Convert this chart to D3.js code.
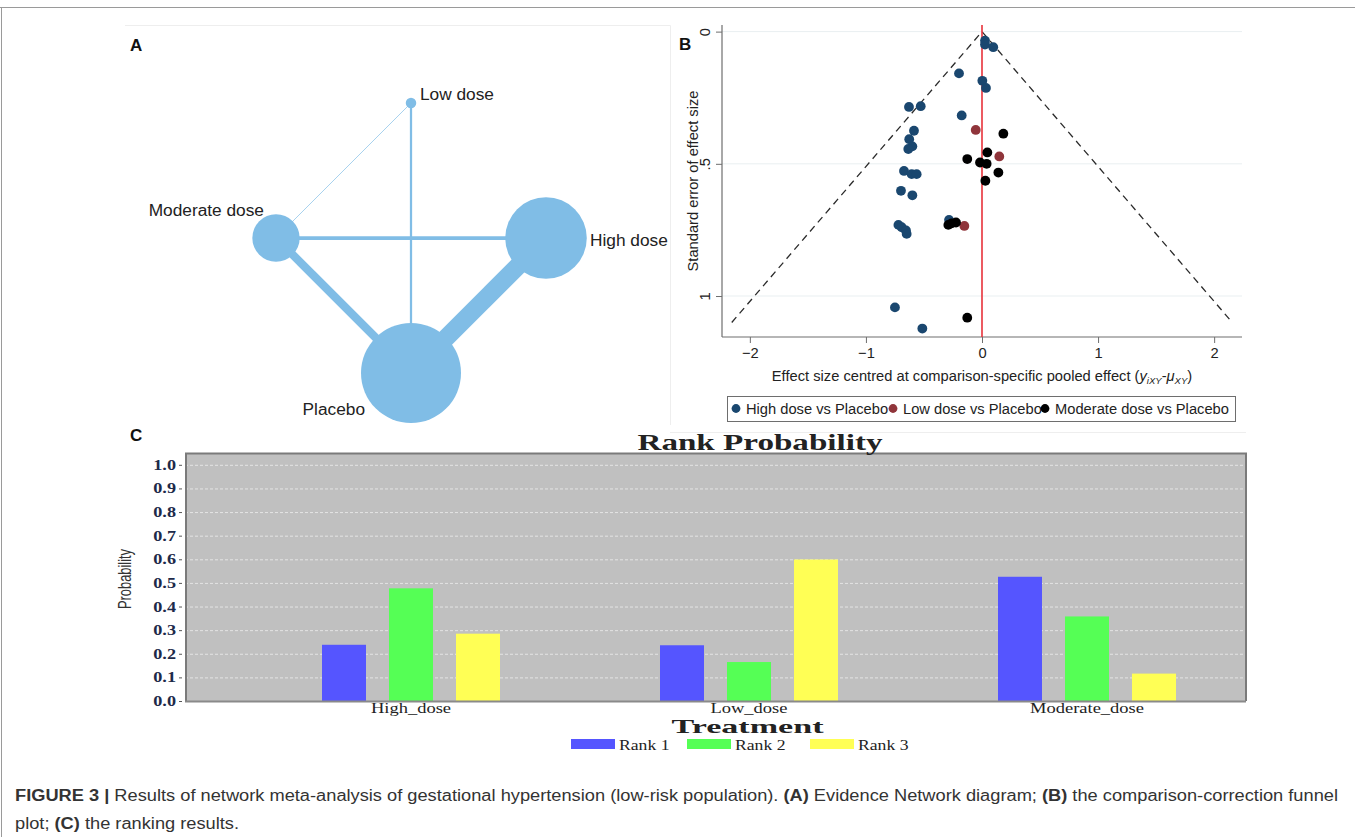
<!DOCTYPE html>
<html>
<head>
<meta charset="utf-8">
<script src="https://cdn.jsdelivr.net/npm/d3@7"></script>
<style>
  html, body { margin: 0; padding: 0; background: #fff; }
  svg { display: block; }
</style>
</head>
<body>
<svg id="fig" width="1355" height="837"></svg>
<script>
// ---------- Panel A: evidence network ----------
const treatments = ["Low dose", "High dose", "Placebo", "Moderate dose"];
const treatmentStudies = [4, 31, 38, 18];
const comparisonFrom = ["High dose", "Moderate dose", "Low dose", "Moderate dose", "Low dose"];
const comparisonTo = ["Placebo", "Placebo", "Placebo", "High dose", "Moderate dose"];
const comparisonStudies = [24, 11, 3, 5, 1];

// ---------- Panel B: comparison-adjusted funnel plot ----------
const highDoseEffect = [0.026, 0.026, 0.097, -0.198, 0.003, 0.034, -0.629, -0.528, -0.175, -0.586, -0.627, -0.600, -0.635, -0.672, -0.606, -0.563, -0.698, -0.600, -0.720, -0.692, -0.655, -0.649, -0.284, -0.750, -0.514];
const highDoseSE = [0.034, 0.049, 0.059, 0.158, 0.186, 0.213, 0.285, 0.282, 0.317, 0.375, 0.407, 0.434, 0.444, 0.527, 0.539, 0.539, 0.602, 0.619, 0.731, 0.740, 0.752, 0.765, 0.712, 1.043, 1.123];
const lowDoseEffect = [-0.054, 0.149, -0.152];
const lowDoseSE = [0.372, 0.472, 0.735];
const moderateDoseEffect = [0.184, 0.046, -0.127, -0.017, 0.040, 0.141, 0.029, -0.290, -0.261, -0.224, -0.127];
const moderateDoseSE = [0.386, 0.457, 0.482, 0.495, 0.500, 0.533, 0.564, 0.731, 0.725, 0.722, 1.082];
const funnelMaxSE = 1.1;
const xTicksB = [-2, -1, 0, 1, 2];
const yTicksB = [0, 0.5, 1];
const yTickLabelsB = ["0", ".5", "1"];
const seriesNamesB = ["High dose vs Placebo", "Low dose vs Placebo", "Moderate dose vs Placebo"];

// ---------- Panel C: rank probabilities ----------
const rankTreatments = ["High_dose", "Low_dose", "Moderate_dose"];
const rankNames = ["Rank 1", "Rank 2", "Rank 3"];
const rank1 = [0.238, 0.236, 0.526];
const rank2 = [0.477, 0.165, 0.358];
const rank3 = [0.285, 0.599, 0.116];
const probTicks = [0.0, 0.1, 0.2, 0.3, 0.4, 0.5, 0.6, 0.7, 0.8, 0.9, 1.0];

const svg = d3.select("#fig");
const SANS = "'Liberation Sans', Arial, Helvetica, sans-serif";
const SERIF = "'Liberation Serif', 'Times New Roman', serif";

// stretch a text selection horizontally by a factor of its natural width
function stretch(sel, factor) {
  sel.each(function () {
    const w = this.getComputedTextLength();
    d3.select(this).attr("textLength", w * factor).attr("lengthAdjust", "spacingAndGlyphs");
  });
}

svg.append("rect").attr("width", 1355).attr("height", 837).attr("fill", "#fff");

// figure frame (top and left edges)
svg.append("line").attr("x1", 0).attr("x2", 1355).attr("y1", 7.5).attr("y2", 7.5)
  .attr("stroke", "#9a9a9a").attr("stroke-width", 1);
svg.append("line").attr("x1", 1.5).attr("x2", 1.5).attr("y1", 7).attr("y2", 837)
  .attr("stroke", "#9a9a9a").attr("stroke-width", 1);

// ================= Panel A =================
{
  const g = svg.append("g");
  g.append("path").attr("d", "M125,25.5H670.5V425")
    .attr("fill", "none").attr("stroke", "#eeeeee");
  g.append("text").attr("x", 130).attr("y", 51).text("A")
    .attr("font-family", SANS).attr("font-weight", "bold").attr("font-size", 17).attr("fill", "#111");

  const cx = 411, cy = 238, R = 135;
  const pos = {};
  treatments.forEach((t, i) => {
    const a = -Math.PI / 2 + i * Math.PI / 2;
    pos[t] = [cx + R * Math.cos(a), cy + R * Math.sin(a)];
  });
  const rScale = d3.scaleLinear().domain([0, d3.max(treatmentStudies)]).range([0, 50]);
  const wScale = d3.scaleLinear().domain([0, d3.max(comparisonStudies)]).range([0, 18]);
  const col = "#80bde6";

  const edges = comparisonFrom.map((f, i) => ({ f, t: comparisonTo[i], n: comparisonStudies[i] }));
  g.selectAll("line.edge").data(edges).join("line")
    .attr("class", "edge")
    .attr("x1", d => pos[d.f][0]).attr("y1", d => pos[d.f][1])
    .attr("x2", d => pos[d.t][0]).attr("y2", d => pos[d.t][1])
    .attr("stroke", d => d.n < 2 ? "#a8d2ee" : col)
    .attr("stroke-width", d => Math.max(1, wScale(d.n)));

  const nodes = treatments.map((t, i) => ({ t, n: treatmentStudies[i] }));
  g.selectAll("circle.node").data(nodes).join("circle")
    .attr("class", "node")
    .attr("cx", d => pos[d.t][0]).attr("cy", d => pos[d.t][1])
    .attr("r", d => rScale(d.n)).attr("fill", col);

  const labelPlace = {
    "Low dose": { dx: 9, dy: -3, anchor: "start" },
    "High dose": { dx: 44, dy: 8, anchor: "start" },
    "Placebo": { dx: -46, dy: 42, anchor: "end" },
    "Moderate dose": { dx: -12, dy: -22, anchor: "end" }
  };
  g.selectAll("text.nlab").data(nodes).join("text")
    .attr("class", "nlab")
    .attr("x", d => pos[d.t][0] + labelPlace[d.t].dx)
    .attr("y", d => pos[d.t][1] + labelPlace[d.t].dy)
    .attr("text-anchor", d => labelPlace[d.t].anchor)
    .attr("font-family", SANS).attr("font-size", 17.3).attr("fill", "#222")
    .text(d => d.t);
}

// ================= Panel B =================
{
  const g = svg.append("g");
  const FS = 14.7;
  g.append("text").attr("x", 679).attr("y", 50).text("B")
    .attr("font-family", SANS).attr("font-weight", "bold").attr("font-size", 17).attr("fill", "#111");

  const x = d3.scaleLinear().domain([-2.24, 2.24]).range([722, 1242]);
  const y = d3.scaleLinear().domain([-0.025, 1.155]).range([25, 337]);
  const axisCol = "#6e6e6e";

  g.selectAll("line.grid").data(yTicksB).join("line")
    .attr("class", "grid")
    .attr("x1", x.range()[0]).attr("x2", x.range()[1])
    .attr("y1", d => y(d)).attr("y2", d => y(d))
    .attr("stroke", "#e9eff1").attr("stroke-width", 1);

  const xAxis = d3.axisBottom(x).tickValues(xTicksB).tickSize(6).tickPadding(5)
    .tickFormat(d3.format("d"));
  const xa = g.append("g").attr("transform", `translate(0,${y.range()[1]})`).call(xAxis);
  xa.select(".domain").attr("stroke", axisCol).attr("stroke-width", 1.2)
    .attr("d", `M${x.range()[0]},0H${x.range()[1]}`);
  xa.selectAll(".tick line").attr("stroke", axisCol);
  xa.selectAll(".tick text").attr("font-family", SANS).attr("font-size", FS).attr("fill", "#222");

  const yAxis = d3.axisLeft(y).tickValues(yTicksB).tickSize(6).tickFormat((d, i) => yTickLabelsB[i]);
  const ya = g.append("g").attr("transform", `translate(${x.range()[0]},0)`).call(yAxis);
  ya.select(".domain").attr("stroke", axisCol).attr("stroke-width", 1.2)
    .attr("d", `M0,${y.range()[0]}V${y.range()[1]}`);
  ya.selectAll(".tick line").attr("stroke", axisCol);
  ya.selectAll(".tick text")
    .attr("font-family", SANS).attr("font-size", FS).attr("fill", "#222")
    .attr("x", 0).attr("dy", 0).attr("text-anchor", "middle")
    .attr("transform", "translate(-12,0) rotate(-90)");

  g.append("text")
    .attr("transform", `translate(698,${(y.range()[0] + y.range()[1]) / 2}) rotate(-90)`)
    .attr("text-anchor", "middle").attr("font-family", SANS).attr("font-size", FS).attr("fill", "#222")
    .text("Standard error of effect size");

  const xt = g.append("text").attr("x", 982).attr("y", 381).attr("text-anchor", "middle")
    .attr("font-family", SANS).attr("font-size", FS).attr("fill", "#222");
  xt.append("tspan").text("Effect size centred at comparison-specific pooled effect (");
  xt.append("tspan").attr("font-style", "italic").text("y");
  xt.append("tspan").attr("font-style", "italic").attr("font-size", 9.5).attr("dy", 3).text("iXY");
  xt.append("tspan").attr("dy", -3).text("-");
  xt.append("tspan").attr("font-style", "italic").text("\u03bc");
  xt.append("tspan").attr("font-style", "italic").attr("font-size", 9.5).attr("dy", 3).text("XY");
  xt.append("tspan").attr("dy", -3).text(")");

  // funnel (pseudo 95% limits)
  const funnel = [[-1.96 * funnelMaxSE, funnelMaxSE], [0, 0], [1.96 * funnelMaxSE, funnelMaxSE]];
  g.append("path")
    .attr("d", d3.line().x(d => x(d[0])).y(d => y(d[1]))(funnel))
    .attr("fill", "none").attr("stroke", "#2a2a2a").attr("stroke-width", 1.3)
    .attr("stroke-dasharray", "7,5");

  g.append("line").attr("x1", x(0)).attr("x2", x(0))
    .attr("y1", y.range()[0]).attr("y2", y.range()[1])
    .attr("stroke", "#e8313a").attr("stroke-width", 1.6);

  const series = [
    { xs: highDoseEffect, ys: highDoseSE, color: "#1a476f" },
    { xs: lowDoseEffect, ys: lowDoseSE, color: "#90353b" },
    { xs: moderateDoseEffect, ys: moderateDoseSE, color: "#000000" }
  ];
  series.forEach(s => {
    g.append("g").selectAll("circle").data(s.xs.map((v, i) => [v, s.ys[i]])).join("circle")
      .attr("cx", d => x(d[0])).attr("cy", d => y(d[1])).attr("r", 4.9).attr("fill", s.color);
  });

  // legend
  const lg = g.append("g");
  lg.append("rect").attr("x", 727.5).attr("y", 396.5).attr("width", 508).attr("height", 25)
    .attr("fill", "#fff").attr("stroke", "#6e6e6e").attr("stroke-width", 1);
  const legX = [736, 893, 1045];
  seriesNamesB.forEach((name, i) => {
    lg.append("circle").attr("cx", legX[i]).attr("cy", 408.5).attr("r", 4.4).attr("fill", series[i].color);
    lg.append("text").attr("x", legX[i] + 10).attr("y", 414)
      .attr("font-family", SANS).attr("font-size", FS).attr("fill", "#222").text(name);
  });
}

// ================= Panel C =================
{
  const g = svg.append("g");
  g.append("line").attr("x1", 670).attr("x2", 1246).attr("y1", 432.5).attr("y2", 432.5).attr("stroke", "#eeeeee");
  g.append("text").attr("x", 130).attr("y", 441).text("C")
    .attr("font-family", SANS).attr("font-weight", "bold").attr("font-size", 17).attr("fill", "#111");

  const left = 185, right = 1246, top = 453, bottom = 701;
  const y = d3.scaleLinear().domain([0, 1.05]).range([bottom, top]);
  const x = d3.scalePoint().domain(rankTreatments).range([411, 1087]);
  const inner = d3.scaleBand().domain(rankNames).range([-89, 89]).paddingInner(23 / 67).paddingOuter(0);
  const colors = ["#5555ff", "#55ff55", "#ffff55"];

  g.append("rect").attr("x", left).attr("y", top).attr("width", right - left).attr("height", bottom - top)
    .attr("fill", "#c0c0c0");

  g.selectAll("line.grid").data(probTicks.filter(d => d > 0)).join("line")
    .attr("class", "grid")
    .attr("x1", left).attr("x2", right).attr("y1", d => y(d) + 0.5).attr("y2", d => y(d) + 0.5)
    .attr("stroke", "#e4e4e4").attr("stroke-width", 1).attr("stroke-dasharray", "3,2");

  const seriesC = [rank1, rank2, rank3];
  seriesC.forEach((vals, si) => {
    g.append("g").selectAll("rect").data(vals).join("rect")
      .attr("x", (d, i) => x(rankTreatments[i]) + inner(rankNames[si]))
      .attr("width", inner.bandwidth())
      .attr("y", d => y(d)).attr("height", d => y(0) - y(d))
      .attr("fill", colors[si]);
  });

  g.append("path").attr("d", `M${left + 1},${bottom}V${top + 0.5}H${right}V${bottom}`)
    .attr("fill", "none").attr("stroke", "#7a7a7a").attr("stroke-width", 2);
  g.append("line").attr("x1", left).attr("x2", right).attr("y1", bottom + 0.5).attr("y2", bottom + 0.5)
    .attr("stroke", "#8a8a8a").attr("stroke-width", 2);

  const ya = g.append("g").attr("transform", `translate(${left - 3},0)`)
    .call(d3.axisLeft(y).tickValues(probTicks).tickSize(3).tickPadding(3).tickFormat(d3.format(".1f")));
  ya.select(".domain").remove();
  ya.selectAll(".tick line").attr("stroke", "#555");
  ya.selectAll(".tick text").attr("font-family", SERIF).attr("font-weight", "bold")
    .attr("font-size", 14).attr("fill", "#1d2a4a");
  stretch(ya.selectAll(".tick text"), 1.3);

  g.append("text").attr("transform", `translate(131,${(top + bottom) / 2 + 2}) rotate(-90)`)
    .attr("text-anchor", "middle").attr("font-family", SANS)
    .attr("font-size", 18).attr("fill", "#333").text("Probability")
    .attr("textLength", 60).attr("lengthAdjust", "spacingAndGlyphs");

  const cats = g.selectAll("text.cat").data(rankTreatments).join("text")
    .attr("class", "cat")
    .attr("x", d => x(d)).attr("y", 712.5).attr("text-anchor", "middle")
    .attr("font-family", SERIF).attr("font-size", 14).attr("fill", "#222")
    .text(d => d);
  stretch(cats, 1.32);

  g.append("text").attr("x", 760).attr("y", 450).attr("text-anchor", "middle")
    .attr("font-family", SERIF).attr("font-weight", "bold").attr("font-size", 24).attr("fill", "#222")
    .attr("textLength", 245).attr("lengthAdjust", "spacingAndGlyphs").text("Rank Probability");
  g.append("text").attr("x", 747.5).attr("y", 733).attr("text-anchor", "middle")
    .attr("font-family", SERIF).attr("font-weight", "bold").attr("font-size", 19).attr("fill", "#222")
    .attr("textLength", 152).attr("lengthAdjust", "spacingAndGlyphs").text("Treatment");

  const legX = [571, 687, 810];
  rankNames.forEach((name, i) => {
    g.append("rect").attr("x", legX[i]).attr("y", 739).attr("width", 44).attr("height", 10).attr("fill", colors[i]);
    const t = g.append("text").attr("x", legX[i] + 48).attr("y", 749.5)
      .attr("font-family", SERIF).attr("font-size", 14).attr("fill", "#222").text(name);
    stretch(t, 1.26);
  });
}

// ================= Caption =================
{
  const cap = svg.append("g").attr("font-family", "'Liberation Sans Narrow', 'Arial Narrow', " + SANS)
    .attr("font-size", 16).attr("fill", "#333");
  const line1 = [
    ["FIGURE 3 |", true], [" Results of network meta-analysis of gestational hypertension (low-risk population). ", false],
    ["(A)", true], [" Evidence Network diagram; ", false], ["(B)", true], [" the comparison-correction funnel", false]
  ];
  const line2 = [["plot; ", false], ["(C)", true], [" the ranking results.", false]];
  const t1 = cap.append("text").attr("x", 15).attr("y", 801).attr("xml:space", "preserve");
  line1.forEach(([s, b]) => t1.append("tspan").attr("font-weight", b ? "bold" : null).text(s));
  const t2 = cap.append("text").attr("x", 15).attr("y", 829).attr("xml:space", "preserve");
  line2.forEach(([s, b]) => t2.append("tspan").attr("font-weight", b ? "bold" : null).text(s));
  const n1 = t1.node().getComputedTextLength();
  const n2 = t2.node().getComputedTextLength();
  const k = 1323 / n1;
  t1.attr("textLength", 1323).attr("lengthAdjust", "spacingAndGlyphs");
  t2.attr("textLength", n2 * k).attr("lengthAdjust", "spacingAndGlyphs");
}
</script>
</body>
</html>
